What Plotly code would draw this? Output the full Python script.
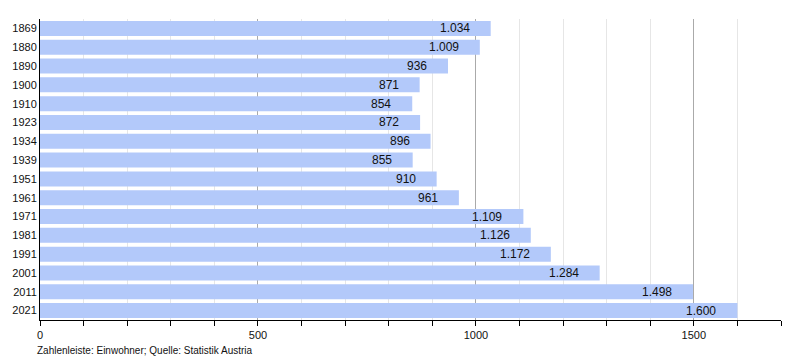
import plotly.graph_objects as go

years = ["1869", "1880", "1890", "1900", "1910", "1923", "1934", "1939", "1951",
         "1961", "1971", "1981", "1991", "2001", "2011", "2021"]
population = [1034, 1009, 936, 871, 854, 872, 896, 855, 910, 961, 1109, 1126,
              1172, 1284, 1498, 1600]
tick_values = [0, 500, 1000, 1500]
tick_labels = ["0", "500", "1000", "1500"]
footer = "Zahlenleiste: Einwohner; Quelle: Statistik Austria"


def de_format(v):
    return f"{v:,}".replace(",", ".")


fig = go.Figure()
fig.add_trace(go.Bar(
    x=population, y=years, orientation="h",
    marker=dict(color="#b3c9fa", line=dict(width=0)),
    hoverinfo="x+y",
))

# value labels, placed on category serial positions of the y axis
for i, v in enumerate(population):
    fig.add_annotation(x=v, y=i, xref="x", yref="y", text=de_format(v),
                       showarrow=False, xanchor="right", xshift=-19,
                       font=dict(size=12, color="#111111",
                                 family="Liberation Sans, Arial, sans-serif"))

fig.add_annotation(x=0, y=0, xref="paper", yref="paper", text=footer,
                   showarrow=False, xanchor="left", yanchor="middle",
                   xshift=-5, yshift=-30,
                   font=dict(size=10, color="#111111",
                             family="Liberation Sans, Arial, sans-serif"))

fig.update_layout(
    width=800, height=360,
    margin=dict(l=32, r=27, t=11, b=48),
    paper_bgcolor="white", plot_bgcolor="white",
    bargap=0.2, showlegend=False,
    font=dict(family="Liberation Sans, Arial, sans-serif", size=11, color="#111111"),
    xaxis=dict(
        range=[0, 1700], tickvals=tick_values, ticktext=tick_labels,
        ticks="outside", ticklen=5, tickcolor="black", tickwidth=1,
        showline=True, linecolor="black", linewidth=1,
        showgrid=True, gridcolor="#aaaaaa", gridwidth=1,
        zeroline=False, tickfont=dict(size=11), automargin=False,
        minor=dict(dtick=100, ticks="outside", ticklen=5, tickcolor="black",
                   showgrid=True, gridcolor="#e6e6e6", gridwidth=1),
    ),
    yaxis=dict(
        type="category", autorange="reversed", showline=True,
        linecolor="black", linewidth=1, automargin=False,
        ticks="", showgrid=False, tickfont=dict(size=11),
    ),
)

fig.write_html("out.html")
